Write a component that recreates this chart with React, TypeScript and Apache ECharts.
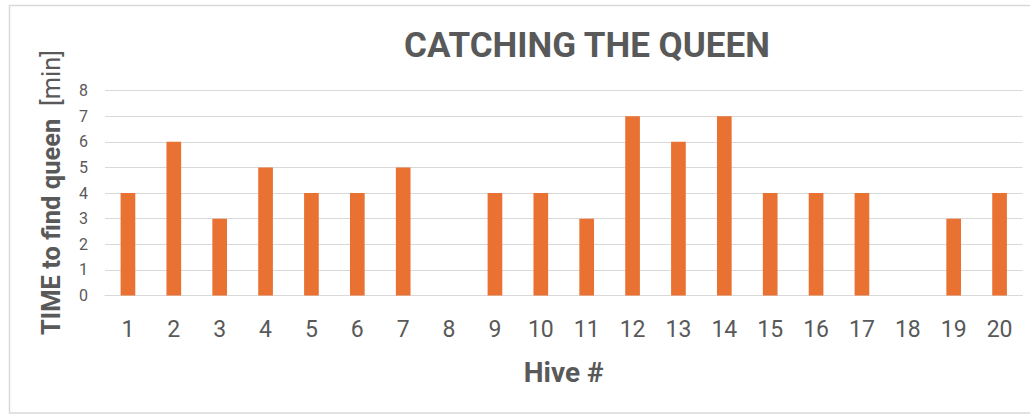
import React, { useEffect, useRef } from "react";
import * as echarts from "echarts";

const categories = ["1","2","3","4","5","6","7","8","9","10","11","12","13","14","15","16","17","18","19","20"];
const timeToFind = [4, 6, 3, 5, 4, 4, 5, 0, 4, 4, 3, 7, 6, 7, 4, 4, 4, 0, 3, 4];
const titleText = "CATCHING THE QUEEN";
const xName = "Hive #";
const yNameBold = "TIME to find queen";
const yNameUnit = "[min]";

export default function App() {
  const ref = useRef<HTMLDivElement>(null);
  useEffect(() => {
    if (!ref.current) return;
    const chart = echarts.init(ref.current, null, { renderer: "svg" });
    const textColor = "#595959";
    chart.setOption({
      animation: false,
      backgroundColor: "#ffffff",
      textStyle: { fontFamily: "Roboto" },
      grid: { left: 105, right: 7.5, top: 90.5, bottom: 119.5, containLabel: false },
      graphic: [
        {
          type: "polyline",
          shape: { points: [[1040, 5.5], [9.5, 5.5], [9.5, 413], [1040, 413]] },
          style: { fill: "none", stroke: "#D9D9D9", lineWidth: 1.5 },
          silent: true,
          z: -10,
        },
        {
          type: "text",
          x: 587,
          y: 45,
          style: {
            text: titleText,
            fontFamily: "Roboto",
            fontWeight: "bold",
            fontSize: 35,
            fill: textColor,
            align: "center",
            verticalAlign: "middle",
          },
        },
        {
          type: "text",
          x: 51,
          y: 192.5,
          rotation: Math.PI / 2,
          style: {
            text: "{b|" + yNameBold + "}{n|  " + yNameUnit + "}",
            align: "center",
            verticalAlign: "middle",
            rich: {
              b: { fontFamily: "Roboto", fontWeight: "bold", fontSize: 25.5, fill: textColor, color: textColor },
              n: { fontFamily: "Roboto", fontWeight: "normal", fontSize: 25.5, fill: textColor, color: textColor },
            },
          },
        },
      ],
      xAxis: {
        type: "category",
        data: categories,
        name: xName,
        nameLocation: "middle",
        nameGap: 63,
        nameTextStyle: { fontFamily: "Roboto", fontWeight: "bold", fontSize: 28, color: textColor },
        axisLine: { show: true, lineStyle: { color: "#D9D9D9", width: 1 } },
        axisTick: { show: false },
        axisLabel: { fontFamily: "Roboto", fontSize: 23, color: textColor, margin: 22 },
      },
      yAxis: {
        type: "value",
        min: 0,
        max: 8,
        interval: 1,
        axisLine: { show: false },
        axisTick: { show: false },
        axisLabel: { fontFamily: "Roboto", fontSize: 16, color: textColor, margin: 17 },
        splitLine: { lineStyle: { color: "#D9D9D9", width: 1 } },
      },
      series: [
        {
          type: "bar",
          data: timeToFind,
          barWidth: "32%",
          itemStyle: { color: "#E97132" },
        },
      ],
    });
    return () => chart.dispose();
  }, []);
  return (
    <div
      ref={ref}
      style={{ position: "fixed", left: 0, top: 0, width: 1030, height: 415 }}
    />
  );
}
